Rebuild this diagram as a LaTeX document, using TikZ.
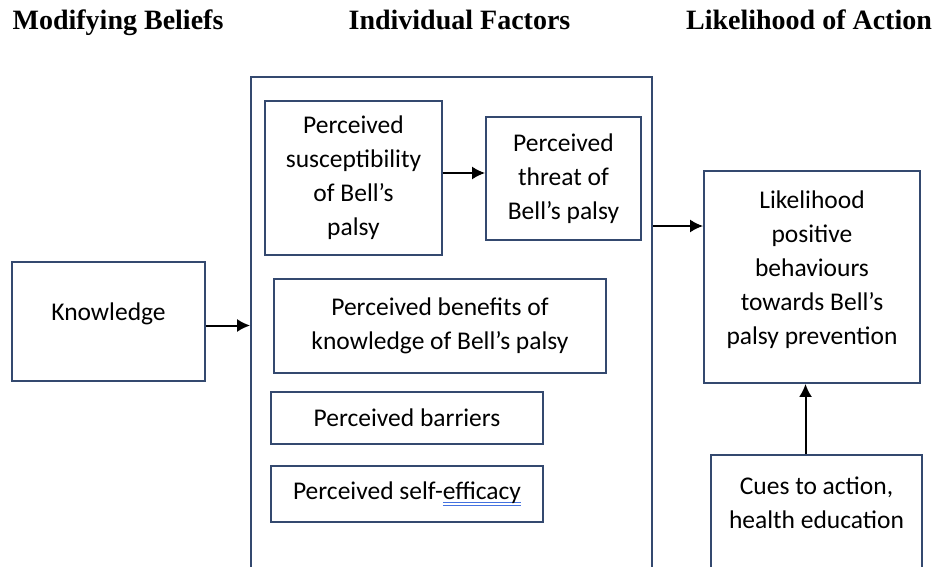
\documentclass[tikz,border=0pt]{standalone}
\usepackage{fontspec}
\usepackage{xcolor}
\usepackage{tikz}
\usetikzlibrary{arrows.meta}
\setmainfont{Carlito}
\newfontfamily\headfont{Liberation Serif}
\definecolor{BoxLine}{HTML}{34496F}
\definecolor{SpellBlue}{HTML}{4472E0}
\newcommand\spellchk[1]{\setbox0\hbox{#1}\rlap{\color{SpellBlue}\rule[-3.5pt]{\wd0}{0.9pt}}\rlap{\color{SpellBlue}\rule[-6.5pt]{\wd0}{0.9pt}}\box0}
% text set higher than the box middle
\newcommand\liftlines[2]{\raisebox{#1}[0pt][0pt]{\begin{tabular}{@{}c@{}}#2\end{tabular}}}
\tikzset{%
  box/.style={draw=BoxLine, line width=1.8pt, align=center, inner sep=4pt, font=\fontsize{25.5}{34}\selectfont},%
  head/.style={font=\headfont\bfseries\fontsize{28}{30}\selectfont, anchor=base},%
  arr/.style={-{Latex[length=13pt,width=13pt]}, line width=2pt},%
}
\begin{document}
\begin{tikzpicture}[x=1pt,y=-1pt]%
\useasboundingbox (0,0) rectangle (937,567);%
\node[head] (hmod) at (118,30) {Modifying Beliefs};%
\node[head] (hind) at (459.5,30) {Individual Factors};%
\node[head] (hlik) at (809,30) {Likelihood of Action};%
\node[box, minimum width=193pt, minimum height=119pt] (know) at (108.5,321.5) {\liftlines{1.5pt}{Knowledge}};%
\node[box, minimum width=401pt, minimum height=543pt] (big) at (451.5,348.5) {};%
\node[box, minimum width=177pt, minimum height=154pt] (susc) at (353.5,178) {Perceived\\susceptibility\\of Bell’s\\palsy};%
\node[box, minimum width=155pt, minimum height=123pt] (threat) at (563.5,178.5) {Perceived\\threat of\\Bell’s palsy};%
\node[box, minimum width=332pt, minimum height=94pt] (benef) at (440,326) {Perceived benefits of\\knowledge of Bell’s palsy};%
\node[box, minimum width=272pt, minimum height=52pt] (barr) at (407,418) {Perceived barriers};%
\node[box, minimum width=272pt, minimum height=56pt] (selfeff) at (407,494) {Perceived self-\spellchk{efficacy}};%
\node[box, minimum width=216pt, minimum height=212pt] (like) at (812,277) {\liftlines{1pt}{Likelihood\\positive\\behaviours\\towards Bell’s\\palsy prevention}};%
\node[box, minimum width=211pt, minimum height=165pt] (cues) at (816.5,537.5) {\liftlines{27pt}{Cues to action,\\health education}};%
\draw[arr] ([yshift=-4pt]know.east) -- ([yshift=-4pt]know.east -| big.west);%
\draw[arr] ([yshift=5pt]susc.east) -- ([yshift=5pt]susc.east -| threat.west);%
\draw[arr] ([yshift=51pt]like.west -| big.east) -- ([yshift=51pt]like.west);%
\draw[arr] ([xshift=-11pt]cues.north) -- ([xshift=-11pt]cues.north |- like.south);%
\end{tikzpicture}
\end{document}
